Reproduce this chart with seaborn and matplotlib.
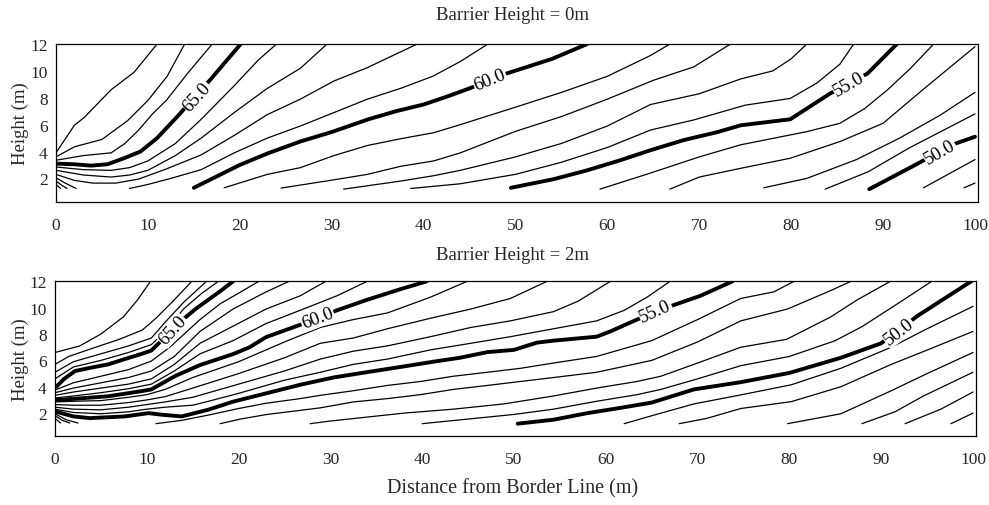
import numpy as np
import pandas as pd
import matplotlib
matplotlib.use("Agg")
import matplotlib.pyplot as plt
import seaborn as sns

# ---------------- data ----------------
distance_ticks = [0, 10, 20, 30, 40, 50, 60, 70, 80, 90, 100]
height_ticks = [2, 4, 6, 8, 10, 12]
panel_titles = ["Barrier Height = 0m", "Barrier Height = 2m"]
labelled_levels = [65, 60, 55, 50]

# --- top panel: barrier height 0 m (contour level -> x [m], height [m]) ---
t68_x = [0, 2, 3.1, 6, 8.5, 11];                 t68_h = [3.9, 5.95, 6.55, 8.6, 9.9, 12]
t67_x = [0, 2, 5, 7.8, 10, 12.1, 14];            t67_h = [3.6, 4.35, 4.9, 6.3, 7.8, 9.6, 12]
t66_x = [0, 3, 6, 7.5, 9, 10.5, 12, 14.3, 17];   t66_h = [3.35, 3.7, 3.9, 4.6, 5.6, 6.8, 7.8, 9.8, 12]
t65_x = [0, 2, 3.8, 5.6, 7.4, 9.2, 11, 13.2, 16.8, 20.1]
t65_h = [3.1, 3.05, 2.95, 3.05, 3.5, 4.0, 5.0, 6.6, 9.35, 12]
t64_x = [0, 3, 6, 8, 10, 13, 15.8, 19.4, 22, 24]
t64_h = [2.85, 2.65, 2.6, 2.8, 3.3, 4.6, 6.4, 8.9, 10.8, 12]
t63_x = [0, 3, 6, 8, 10, 13, 15.8, 19.4, 23, 26.6, 29.5]
t63_h = [2.6, 2.25, 2.1, 2.25, 2.6, 3.7, 5.0, 6.9, 8.7, 10.2, 12]
t62_x = [0, 2, 4, 6.5, 9, 12, 15.8, 19.4, 23, 26.6, 30.25, 33.9, 39.3]
t62_h = [2.3, 1.85, 1.65, 1.65, 1.95, 2.7, 3.75, 5.2, 6.75, 7.9, 9.25, 10.25, 12]
t61_x = [8, 10, 12.5, 15.8, 19.4, 23, 26.6, 30.25, 33.9, 37.5, 41, 44, 47]
t61_h = [1.25, 1.55, 2.0, 2.65, 3.9, 5.0, 5.9, 6.9, 7.9, 8.7, 9.6, 10.7, 12]
t_fan1_x = [0, 1, 2.2];   t_fan1_h = [2.05, 1.65, 1.25]
t_fan2_x = [0, 0.6, 1.2]; t_fan2_h = [1.8, 1.5, 1.25]
t_fan3_x = [0, 0.5];      t_fan3_h = [1.55, 1.25]
t60_x = [15, 20, 23, 26.6, 30, 34, 37, 40, 42.6, 45, 49, 54, 57.8]
t60_h = [1.3, 3.0, 3.85, 4.75, 5.45, 6.4, 7.0, 7.5, 8.1, 8.7, 9.8, 10.9, 12]
t59_x = [18.3, 23, 26.6, 30.25, 33.9, 37.5, 41.1, 44, 50, 55, 60, 64.7, 66.8]
t59_h = [1.3, 2.3, 2.8, 3.7, 4.45, 4.95, 5.4, 6.0, 7.3, 8.4, 9.6, 11.15, 12]
t58_x = [24.5, 30.3, 33.9, 37.5, 41.1, 44, 50, 55, 60, 65, 69.4, 73.4]
t58_h = [1.28, 1.9, 2.3, 2.9, 3.3, 3.9, 5.5, 6.6, 7.9, 9.3, 10.3, 12]
t57_x = [31.3, 37.5, 41.1, 44, 50, 55, 60, 64.7, 70, 74.5, 78, 80, 81.7]
t57_h = [1.2, 1.8, 2.2, 2.6, 3.6, 4.6, 5.9, 7.5, 8.3, 9.4, 10.0, 10.9, 12]
t56_x = [38.6, 44, 50, 55, 60, 64.7, 69.4, 75, 79.9, 82.8, 85.3, 86.8]
t56_h = [1.25, 1.6, 2.3, 3.2, 4.3, 5.6, 6.35, 7.45, 7.95, 9.1, 10.5, 12]
t55_x = [49.5, 54.2, 57.8, 61.4, 64.7, 68.3, 72, 74.5, 79.9, 84.2, 88.3, 91.5]
t55_h = [1.3, 1.95, 2.6, 3.35, 4.1, 4.85, 5.45, 5.95, 6.4, 8.3, 9.8, 12]
t54_x = [59.2, 64.7, 70, 74.5, 78.1, 81.7, 85.3, 88, 90.5, 93, 95.5]
t54_h = [1.2, 2.4, 3.6, 4.5, 4.99, 5.48, 6.1, 7.2, 8.6, 10.2, 12]
t53_x = [66.8, 70, 74.5, 79.9, 85.3, 90, 94.5, 100]
t53_h = [1.2, 2.1, 2.75, 3.5, 4.74, 6.1, 8.7, 11.8]
t52_x = [77, 81.7, 87.1, 91.8, 96.2, 100];       t52_h = [1.3, 2.0, 3.4, 5.0, 6.7, 8.4]
t51_x = [83.7, 88.4, 92.8, 100];                 t51_h = [1.2, 2.5, 4.25, 6.8]
t50_x = [88.5, 93.5, 97.5, 100];                 t50_h = [1.2, 3.0, 4.5, 5.1]
t49_x = [94.4, 100];                             t49_h = [1.3, 3.4]
t48_x = [98.8, 100];                             t48_h = [1.3, 1.65]

# --- bottom panel: barrier height 2 m ---
b69_x = [0, 2.7, 5, 7.45, 9, 10.4];              b69_h = [6.6, 7.1, 8.0, 9.3, 10.6, 12]
b68_x = [0, 1.5, 4, 7, 9.5, 11, 13, 14.9];       b68_h = [5.7, 6.3, 6.9, 7.6, 8.3, 9.2, 10.6, 12]
b67_x = [0, 2, 5, 8, 10.5, 12, 14, 16.5];        b67_h = [5.1, 5.9, 6.5, 7.1, 7.7, 8.9, 10.4, 12]
b66_x = [0, 2, 5, 8, 10.5, 12, 14, 16, 17.8];    b66_h = [4.6, 5.5, 6.0, 6.6, 7.2, 8.2, 9.9, 11.1, 12]
b65_x = [0, 1, 2.2, 4, 5.8, 7.6, 9.45, 10.5, 11.3, 13.4, 15.4, 17.9, 19.4]
b65_h = [3.9, 4.6, 5.2, 5.46, 5.7, 6.1, 6.5, 6.75, 7.3, 8.8, 9.95, 11.2, 12]
b64_x = [0, 2, 5, 8, 10.5, 12.5, 15.8, 18, 20, 22.2]
b64_h = [3.75, 4.3, 4.8, 5.3, 5.95, 7.0, 9.1, 10.3, 11.1, 12]
b63_x = [0, 2, 5, 8, 10.5, 13, 15.8, 19.4, 23, 25.5]
b63_h = [3.55, 3.9, 4.3, 4.7, 5.2, 6.3, 8.2, 9.9, 11.2, 12]
b62_x = [0, 2, 5, 8, 10.5, 13, 15.8, 19.4, 23, 26.7, 29.5]
b62_h = [3.35, 3.6, 3.9, 4.2, 4.6, 5.7, 7.3, 8.6, 9.9, 10.9, 12]
b61_x = [0, 2, 5, 8, 10.5, 13, 15.8, 19.4, 23, 26.7, 30.7, 34]
b61_h = [3.15, 3.3, 3.55, 3.85, 4.2, 5.2, 6.5, 7.5, 8.8, 9.8, 10.9, 12]
b60_x = [0, 2, 5.8, 9.45, 10.5, 13.1, 15.8, 19.4, 21.2, 23, 26.7, 30.7, 34, 37.6, 40.5]
b60_h = [3.0, 3.08, 3.28, 3.67, 3.8, 4.82, 5.65, 6.48, 7.0, 7.77, 8.7, 9.8, 10.6, 11.4, 12]
b59_x = [0, 2, 5, 8, 10, 12, 15, 20, 25, 28.9, 32.5, 36.2, 40.9, 44.9]
b59_h = [2.85, 2.9, 2.95, 3.2, 3.4, 3.8, 4.7, 5.9, 7.4, 8.5, 9.1, 9.6, 10.8, 12]
b58_x = [0, 2, 5, 8, 10, 12, 15, 20, 25, 28.9, 32.5, 36.2, 40.9, 45.3, 49.6, 53.6]
b58_h = [2.65, 2.6, 2.6, 2.8, 3.0, 3.25, 3.9, 5.0, 6.2, 7.3, 7.7, 8.4, 9.2, 9.9, 10.7, 12]
b57_x = [0, 2, 5, 8, 10, 12, 15, 20, 25, 28.9, 32.5, 36.2, 40.9, 45.3, 49.6, 54.3, 57, 60.5]
b57_h = [2.45, 2.3, 2.25, 2.45, 2.65, 2.85, 3.2, 4.2, 5.2, 6.1, 6.7, 7.1, 7.8, 8.5, 9.0, 9.7, 10.5, 12]
b56_x = [0, 2, 5, 8, 10, 12, 15, 17, 20, 25, 28.9, 32.5, 36.2, 40.9, 45.3, 49.6, 54.3, 59, 62, 64.5, 67]
b56_h = [2.3, 2.05, 1.95, 2.1, 2.3, 2.45, 2.6, 2.95, 3.5, 4.5, 5.1, 5.7, 6.1, 6.8, 7.3, 7.8, 8.4, 9.0, 9.8, 10.8, 12]
b55_x = [0, 2, 3.8, 7.6, 10.2, 11.6, 13.8, 16.7, 19.4, 23, 26.7, 30.3, 33.9, 37.6, 41.2, 44.1,
         47.1, 50, 52.5, 54.3, 59, 60.5, 63.4, 67.4, 70.3, 73.8]
b55_h = [2.13, 1.75, 1.62, 1.75, 2.0, 1.88, 1.75, 2.26, 2.87, 3.5, 4.15, 4.7, 5.1, 5.5, 5.9, 6.2,
         6.63, 6.8, 7.35, 7.5, 7.8, 8.2, 9.1, 10.2, 10.9, 12]
b54_fan_x = [0, 1.2, 2.5];  b54_fan_h = [1.95, 1.5, 1.25]
b53_fan_x = [0, 0.8, 1.6];  b53_fan_h = [1.8, 1.45, 1.25]
b52_fan_x = [0, 0.6];       b52_fan_h = [1.6, 1.25]
b54_x = [11, 13.8, 16.7, 20, 23, 26.7, 28.9, 32.5, 36.2, 39.8, 43.4, 47.1, 50.7, 54.3, 59, 65, 70,
         74.7, 78.3, 80.5]
b54_h = [1.2, 1.45, 1.85, 2.35, 2.75, 3.1, 3.35, 3.7, 4.1, 4.4, 4.8, 5.1, 5.4, 5.8, 6.3, 7.5, 9.1,
         10.7, 11.2, 12]
b53_x = [18, 20.2, 23.1, 28.9, 32.5, 36.2, 39.8, 43.4, 47.1, 50.7, 54.3, 59, 65, 70, 74.7, 79.8, 84.5, 86.7]
b53_h = [1.2, 1.55, 1.9, 2.4, 2.85, 3.1, 3.4, 3.8, 4.1, 4.4, 4.7, 5.1, 6.0, 7.4, 9.0, 9.9, 11.3, 12]
b52_x = [27.8, 30, 38, 43.4, 48.9, 54.3, 59, 63.4, 66, 70, 74.7, 79.7, 84.5, 87.4, 91]
b52_h = [1.2, 1.4, 2.0, 2.3, 2.7, 3.3, 3.9, 4.4, 4.8, 5.8, 7.0, 7.6, 9.3, 10.6, 12]
b51_x = [40, 45, 50, 54.3, 59, 63.4, 66, 70, 74.7, 80, 85, 88, 92, 95.5]
b51_h = [1.2, 1.55, 1.9, 2.3, 2.9, 3.4, 3.8, 4.6, 5.6, 6.3, 7.5, 8.6, 10.4, 12]
b50_x = [50.4, 54.3, 58, 61.6, 65, 69.6, 74.7, 80, 85.6, 90, 94, 99.8]
b50_h = [1.2, 1.5, 2.0, 2.4, 2.8, 3.8, 4.35, 5.05, 6.2, 7.3, 9.4, 12]
b49_x = [62, 65, 69.6, 74.7, 80.2, 85.6, 91.1, 94.7, 100]
b49_h = [1.2, 1.8, 2.7, 3.38, 4.15, 5.4, 7.0, 8.3, 10.1]
b48_x = [68, 71, 74.7, 80.2, 85.6, 91.1, 94.7, 100]
b48_h = [1.2, 1.6, 2.35, 2.87, 4.0, 5.7, 6.7, 8.2]
b47_x = [79.8, 85.6, 91.1, 95, 100];   b47_h = [1.2, 1.95, 3.7, 5.0, 6.6]
b46_x = [87.9, 91.5, 94.6, 100];       b46_h = [1.2, 2.1, 3.3, 5.1]
b45_x = [92.6, 96.5, 100];             b45_h = [1.2, 2.3, 3.6]
b44_x = [97.6, 100];                   b44_h = [1.2, 2.0]

top_lines = [
    (68, t68_x, t68_h), (67, t67_x, t67_h), (66, t66_x, t66_h), (65, t65_x, t65_h),
    (64, t64_x, t64_h), (63, t63_x, t63_h), (62, t62_x, t62_h), (61, t61_x, t61_h),
    (61, t_fan1_x, t_fan1_h), (61, t_fan2_x, t_fan2_h), (61, t_fan3_x, t_fan3_h),
    (60, t60_x, t60_h), (59, t59_x, t59_h), (58, t58_x, t58_h), (57, t57_x, t57_h),
    (56, t56_x, t56_h), (55, t55_x, t55_h), (54, t54_x, t54_h), (53, t53_x, t53_h),
    (52, t52_x, t52_h), (51, t51_x, t51_h), (50, t50_x, t50_h), (49, t49_x, t49_h),
    (48, t48_x, t48_h),
]
bottom_lines = [
    (69, b69_x, b69_h), (68, b68_x, b68_h), (67, b67_x, b67_h), (66, b66_x, b66_h),
    (65, b65_x, b65_h), (64, b64_x, b64_h), (63, b63_x, b63_h), (62, b62_x, b62_h),
    (61, b61_x, b61_h), (60, b60_x, b60_h), (59, b59_x, b59_h), (58, b58_x, b58_h),
    (57, b57_x, b57_h), (56, b56_x, b56_h), (55, b55_x, b55_h),
    (54, b54_fan_x, b54_fan_h), (53, b53_fan_x, b53_fan_h), (52, b52_fan_x, b52_fan_h),
    (54, b54_x, b54_h), (53, b53_x, b53_h), (52, b52_x, b52_h), (51, b51_x, b51_h),
    (50, b50_x, b50_h), (49, b49_x, b49_h), (48, b48_x, b48_h), (47, b47_x, b47_h),
    (46, b46_x, b46_h), (45, b45_x, b45_h), (44, b44_x, b44_h),
]

# ---------------- style ----------------
sns.set_style("white")
plt.rcParams["font.family"] = ["Liberation Serif", "DejaVu Serif"]
plt.rcParams["axes.linewidth"] = 0.9

fig = plt.figure(figsize=(9.89, 5.06), dpi=100)
ax_top = fig.add_axes([0.0566, 0.599, 0.932, 0.312])
ax_bot = fig.add_axes([0.0556, 0.136, 0.931, 0.306])

# label placement (x, height, rotation) for each labelled level
top_label_pos = {65: (15.3, 8.1, 48), 60: (47.2, 9.35, 22), 55: (86.3, 9.0, 30), 50: (96.2, 3.95, 30)}
bot_label_pos = {65: (12.8, 8.3, 48), 60: (28.6, 9.2, 21), 55: (65.4, 9.75, 24), 50: (91.9, 8.2, 38)}


def draw_panel(ax, lines, label_pos):
    for level, xs, hs in lines:
        bold = level in labelled_levels
        df = pd.DataFrame({"distance": xs, "height": hs})
        sns.lineplot(data=df, x="distance", y="height", ax=ax, sort=False, estimator=None,
                     color="black", linewidth=2.8 if bold else 0.9, legend=False,
                     solid_capstyle="round", zorder=3 if bold else 2)
    for level in labelled_levels:
        lx, lh, rot = label_pos[level]
        ax.text(lx, lh, f"{level:.1f}", rotation=rot, rotation_mode="anchor",
                ha="center", va="center", fontsize=13.5, color="black", zorder=5,
                bbox=dict(facecolor="white", edgecolor="none", pad=0.5))
    ax.set_xlim(0, 100.3)
    ax.set_ylim(0.25, 12)
    ax.set_xticks(distance_ticks)
    ax.set_yticks(height_ticks)
    ax.set_xticklabels([str(v) for v in distance_ticks])
    ax.set_yticklabels([str(v) for v in height_ticks])
    ax.tick_params(axis="x", direction="in", length=6, width=0.9, pad=11, labelsize=12.5)
    ax.tick_params(axis="y", direction="in", length=3, width=0.9, pad=6, labelsize=12.5)
    ax.set_xlabel("")
    ax.set_ylabel("")
    for s in ax.spines.values():
        s.set_visible(True)
        s.set_color("black")
        s.set_linewidth(0.9)


draw_panel(ax_top, top_lines, top_label_pos)
draw_panel(ax_bot, bottom_lines, bot_label_pos)

fig.text(0.518, 1 - 15 / 506, panel_titles[0], ha="center", va="center", fontsize=13.5)
fig.text(0.518, 1 - 255 / 506, panel_titles[1], ha="center", va="center", fontsize=13.5)
fig.text(0.518, 1 - 489 / 506, "Distance from Border Line (m)", ha="center", va="center", fontsize=14.5)
fig.text(0.021, 0.599 + 0.156, "Height (m)", rotation=90, ha="center", va="center", fontsize=13.5)
fig.text(0.021, 0.136 + 0.153, "Height (m)", rotation=90, ha="center", va="center", fontsize=13.5)

fig.savefig("out.png", dpi=100, facecolor="white")
